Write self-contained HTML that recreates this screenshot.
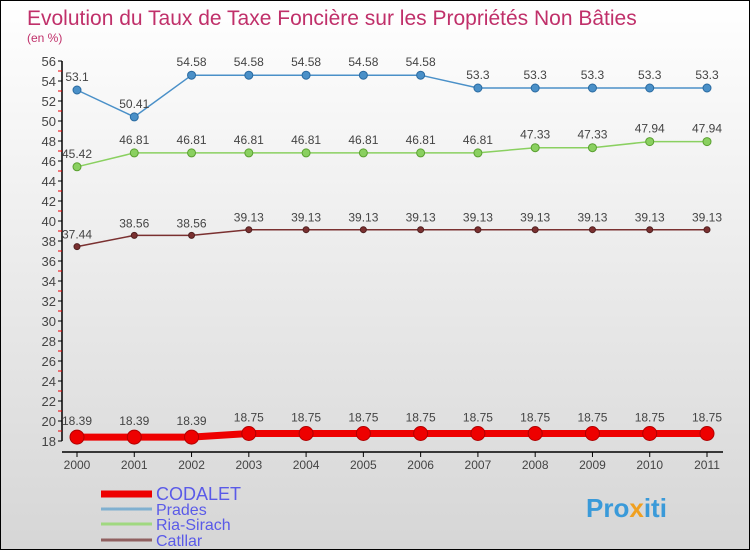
<!DOCTYPE html>
<html><head><meta charset="utf-8"><style>
body{margin:0}
#c{width:748px;height:548px;border:1px solid #000;background:linear-gradient(#fff,#d6d6d6);position:relative;font-family:"Liberation Sans",sans-serif}
svg{position:absolute;left:0;top:0}
</style></head><body>
<div id="c">
<svg id="s" width="750" height="550">
<text x="26" y="24" font-size="21" fill="#c0306a">Evolution du Taux de Taxe Foncière sur les Propriétés Non Bâties</text>
<text x="26" y="41" font-size="12" fill="#c0306a">(en %)</text>
<text x="585" y="516" font-size="26" font-weight="bold" fill="#3a9ad9">Pro<tspan fill="#f0a020">x</tspan>iti</text>
</svg>
</div>
<script>
const years=[2000,2001,2002,2003,2004,2005,2006,2007,2008,2009,2010,2011];
const codalet=[18.39,18.39,18.39,18.75,18.75,18.75,18.75,18.75,18.75,18.75,18.75,18.75];
const prades=[53.1,50.41,54.58,54.58,54.58,54.58,54.58,53.3,53.3,53.3,53.3,53.3];
const ria=[45.42,46.81,46.81,46.81,46.81,46.81,46.81,46.81,47.33,47.33,47.94,47.94];
const catllar=[37.44,38.56,38.56,39.13,39.13,39.13,39.13,39.13,39.13,39.13,39.13,39.13];
const yTicks=[18,20,22,24,26,28,30,32,34,36,38,40,42,44,46,48,50,52,54,56];
const NS="http://www.w3.org/2000/svg",s=document.getElementById('s');
const X=i=>76+i*(630/11), Y=v=>440-(v-18)*10;
function el(t,a,p){const e=document.createElementNS(NS,t);for(const k in a)e.setAttribute(k,a[k]);(p||s).appendChild(e);return e;}
let ax=el('line',{x1:61,y1:60,x2:61,y2:440,stroke:'#000','stroke-width':1.5});


let bx=el('line',{x1:61,y1:451,x2:722,y2:451,stroke:'#000','stroke-width':1.5});


yTicks.forEach(v=>{
 el('line',{x1:57,x2:61,y1:Y(v),y2:Y(v),stroke:'#000'});
 if(v<56)el('line',{x1:57,x2:61,y1:Y(v+1),y2:Y(v+1),stroke:'#e00'});
 let t=el('text',{x:55,y:Y(v)+5,'text-anchor':'end','font-size':13,fill:'#444'});t.textContent=v;
 
 
});
years.forEach((y,i)=>{
 el('line',{x1:X(i),x2:X(i),y1:451,y2:456,stroke:'#000'});
 let t=el('text',{x:X(i),y:468,'text-anchor':'middle','font-size':12,fill:'#444'});t.textContent=y;
 
 
});
function series(d,color,dark,w,r,name){
 const g=el('g',{});
 
 
 el('polyline',{points:d.map((v,i)=>X(i)+','+Y(v)).join(' '),fill:'none',stroke:color,'stroke-width':w},g);
 d.forEach((v,i)=>{
  const c=el('circle',{cx:X(i),cy:Y(v),r:r,fill:color,stroke:dark,'stroke-width':1},g);
  
  
  const t=el('text',{x:X(i),y:Y(v)-(r+5),'text-anchor':'middle','font-size':12,fill:'#444'},g);t.textContent=v;
 });
}
series(prades,'#4a90c8','#2a6aa0',1.5,4,'prades');
series(ria,'#8ad060','#5aa030',1.5,4,'ria-sirach');
series(catllar,'#7a3030','#502020',1.5,3,'catllar');
series(codalet,'#ee0000','#b00000',7,7,'codalet');
const leg=[['CODALET','#ee0000',7],['Prades','#80b0d0',3],['Ria-Sirach','#a0d880',3],['Catllar','#906060',3]];
leg.forEach((l,i)=>{
 const y=[493,508,523,539][i];
 const g=el('g',{});
 
 
 el('line',{x1:100,x2:151,y1:y,y2:y,stroke:l[1],'stroke-width':l[2]},g);
 const t=el('text',{x:155,y:y+6,'font-size':i?16:18,fill:'#5a5ae8'},g);t.textContent=l[0];
});
</script>
</body></html>
